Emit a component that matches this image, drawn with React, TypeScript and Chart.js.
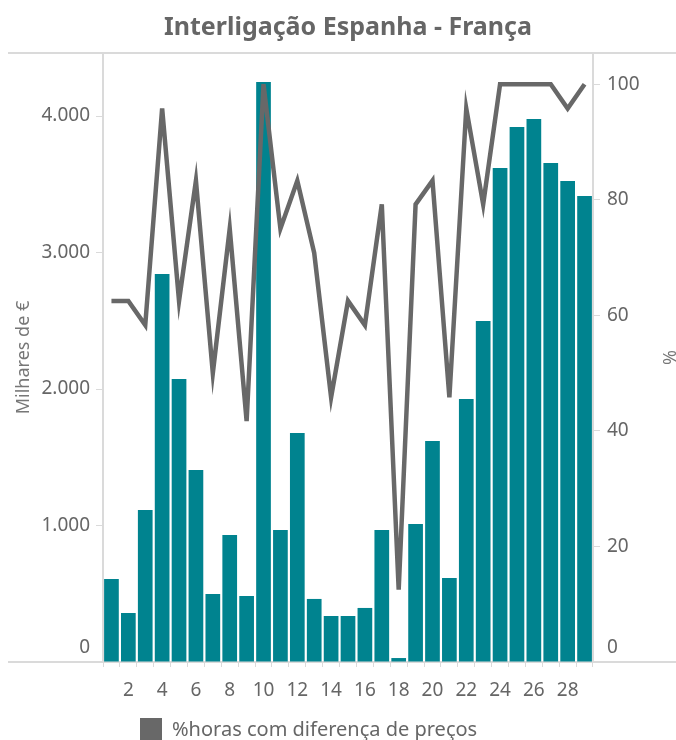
import React, { useEffect, useRef } from "react";
import { Chart, registerables } from "chart.js";

Chart.register(...registerables);

const chartTitle = "Interligação Espanha - França";
const leftAxisTitle = "Milhares de €";
const rightAxisTitle = "%";
const lineLabel = "%horas com diferença de preços";
const barLabel = "Milhares de €";

const days = [
  "1", "2", "3", "4", "5", "6", "7", "8", "9", "10",
  "11", "12", "13", "14", "15", "16", "17", "18", "19", "20",
  "21", "22", "23", "24", "25", "26", "27", "28", "29",
];

const congestionRent = [
  608, 359, 1114, 2842, 2073, 1407, 498, 930, 484, 4249,
  967, 1678, 462, 337, 337, 396, 967, 29, 1011, 1619,
  615, 1927, 2498, 3619, 3919, 3978, 3656, 3524, 3414,
];

const pctHoursPriceDiff = [
  62.5, 62.5, 58.3, 95.8, 62.5, 83.3, 50, 75, 41.7, 100,
  75, 83.3, 70.8, 45.8, 62.5, 58.3, 79.2, 12.5, 79.2, 83.3,
  45.8, 95.8, 79.2, 100, 100, 100, 100, 95.8, 100,
];

const leftTicks = [0, 1000, 2000, 3000, 4000];
const rightTicks = [0, 20, 40, 60, 80, 100];

const leftMax = 4462;
const rightMax = 105.4;

const FONT = "'Noto Sans', 'Open Sans', sans-serif";
const TEXT = "#666666";
const RULE = "#dadada";
const TEAL = "#00838f";
const LINE = "#686868";

const fmtThousands = (v: number) =>
  String(Math.round(v)).replace(/\B(?=(\d{3})+(?!\d))/g, ".");

export default function App() {
  const canvasRef = useRef<HTMLCanvasElement | null>(null);

  useEffect(() => {
    const canvas = canvasRef.current;
    if (!canvas) return;

    const decor = {
      id: "decor",
      beforeDatasetsDraw(chart: any) {
        const { ctx, chartArea } = chart;
        const { left, right, top, bottom } = chartArea;
        ctx.save();
        ctx.strokeStyle = RULE;
        ctx.lineWidth = 2;
        ctx.beginPath();
        ctx.moveTo(8, top);
        ctx.lineTo(chart.width, top);
        ctx.moveTo(8, bottom);
        ctx.lineTo(chart.width, bottom);
        ctx.moveTo(left, top);
        ctx.lineTo(left, bottom);
        ctx.moveTo(right, top);
        ctx.lineTo(right, bottom);
        ctx.stroke();
        ctx.restore();
      },
      afterDraw(chart: any) {
        const { ctx, chartArea } = chart;
        const yL = chart.scales.y;
        const yR = chart.scales.y1;
        ctx.save();
        ctx.fillStyle = TEXT;
        ctx.font = `19px ${FONT}`;
        ctx.textBaseline = "middle";
        ctx.textAlign = "right";
        ctx.fillText("0", chartArea.left - 13, yL.getPixelForValue(0) - 14);
        ctx.textAlign = "left";
        ctx.fillText("0", chartArea.right + 14, yR.getPixelForValue(0) - 14);
        ctx.restore();
      },
    };

    const chart = new Chart(canvas, {
      type: "bar",
      data: {
        labels: days,
        datasets: [
          {
            type: "line",
            label: lineLabel,
            data: pctHoursPriceDiff,
            yAxisID: "y1",
            borderColor: LINE,
            backgroundColor: LINE,
            borderWidth: 4.5,
            pointRadius: 0,
            tension: 0,
            order: 0,
          } as any,
          {
            type: "bar",
            label: barLabel,
            data: congestionRent,
            yAxisID: "y",
            backgroundColor: TEAL,
            categoryPercentage: 1,
            barPercentage: 0.87,
            order: 1,
          },
        ],
      },
      options: {
        responsive: false,
        animation: false,
        layout: { padding: 0 },
        plugins: {
          legend: { display: false },
          tooltip: { enabled: false },
          title: {
            display: true,
            fullSize: false,
            text: chartTitle,
            color: TEXT,
            font: { family: FONT, size: 25, weight: "bold", lineHeight: 1.2 },
            padding: { top: 13, bottom: 10 },
          },
        },
        scales: {
          x: {
            type: "category",
            offset: true,
            border: { display: false },
            grid: {
              display: true,
              offset: true,
              drawOnChartArea: false,
              drawTicks: true,
              tickLength: 5,
              tickColor: RULE,
              tickWidth: 1,
            },
            ticks: {
              autoSkip: false,
              maxRotation: 0,
              minRotation: 0,
              padding: 12,
              color: TEXT,
              font: { family: FONT, size: 19 },
              callback: function (this: any, _v: any, idx: number) {
                return (idx + 1) % 2 === 0 ? days[idx] : "";
              },
            },
            afterFit: (s: any) => {
              s.height = 78;
            },
          },
          y: {
            type: "linear",
            position: "left",
            min: 0,
            max: leftMax,
            border: { display: false },
            grid: {
              drawOnChartArea: false,
              drawTicks: true,
              tickLength: 7,
              tickColor: RULE,
            },
            ticks: {
              padding: 6,
              color: TEXT,
              font: { family: FONT, size: 19 },
              callback: (v: any) => (Number(v) === 0 ? "" : fmtThousands(Number(v))),
            },
            afterBuildTicks: (s: any) => {
              s.ticks = leftTicks.map((v) => ({ value: v }));
            },
            title: {
              display: true,
              text: leftAxisTitle,
              color: "#777777",
              font: { family: FONT, size: 18, lineHeight: 1.2 },
              padding: { top: 13, bottom: 0 },
            },
            afterFit: (s: any) => {
              s.width = 103;
            },
          },
          y1: {
            type: "linear",
            position: "right",
            min: 0,
            max: rightMax,
            border: { display: false },
            grid: {
              drawOnChartArea: false,
              drawTicks: true,
              tickLength: 7,
              tickColor: RULE,
            },
            ticks: {
              padding: 7,
              color: TEXT,
              font: { family: FONT, size: 19 },
              callback: (v: any) => (Number(v) === 0 ? "" : String(v)),
            },
            afterBuildTicks: (s: any) => {
              s.ticks = rightTicks.map((v) => ({ value: v }));
            },
            title: {
              display: true,
              text: rightAxisTitle,
              color: "#777777",
              font: { family: FONT, size: 18, lineHeight: 0.9 },
              padding: { top: 0, bottom: 0 },
            },
            afterFit: (s: any) => {
              s.width = 83;
            },
          },
        },
      },
      plugins: [decor],
    });

    return () => chart.destroy();
  }, []);

  return (
    <div style={{ position: "absolute", left: 0, top: 0, width: 676, height: 740, overflow: "hidden", background: "#fff" }}>
      <canvas ref={canvasRef} width={676} height={740} style={{ display: "block" }} />
      <div
        style={{
          position: "absolute",
          left: 140,
          top: 718,
          display: "flex",
          alignItems: "center",
          fontFamily: FONT,
          fontSize: 20,
          color: TEXT,
          whiteSpace: "nowrap",
          lineHeight: "22px",
        }}
      >
        <span style={{ display: "inline-block", width: 22, height: 22, background: LINE, marginRight: 10 }} />
        <span>{lineLabel}</span>
      </div>
    </div>
  );
}
